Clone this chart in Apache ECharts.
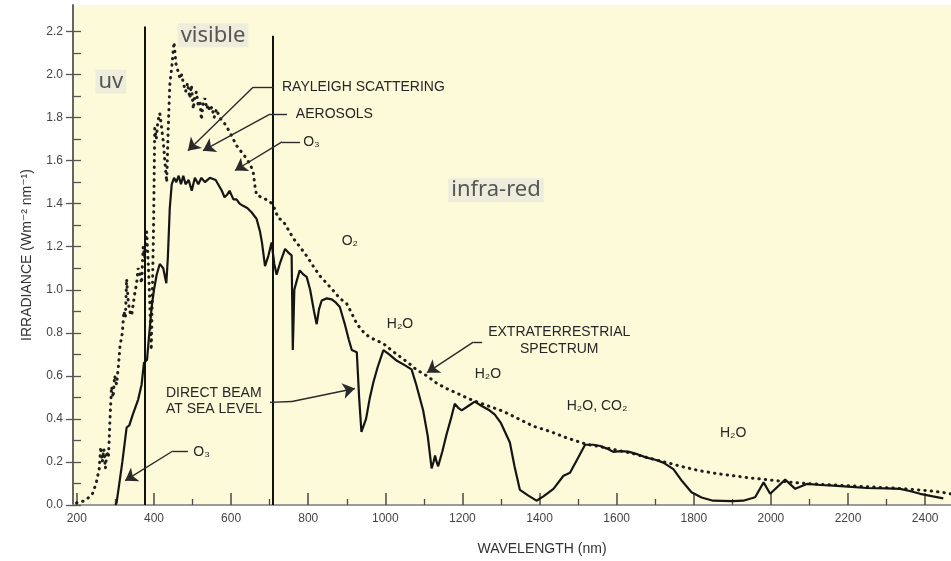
<!DOCTYPE html>
<html><head><meta charset="utf-8">
<script src="https://cdn.jsdelivr.net/npm/echarts@6/dist/echarts.min.js"></script>
<style>html,body{margin:0;padding:0;background:#fff}#c{width:951px;height:561px}</style>
</head><body><div id="c"></div>
<script>
// ---- data ----
// Direct beam at sea level (solid)
const beamWl = [300,303,318,329,336,345,359,368,374,382,388,394,400,407,415,424,432,436,441,446,452,458,464,470,476,482,490,498,506,515,523,532,545,560,576,583,589,596,606,614,622,631,642,653,666,675,680,688,697,705,712,718,728,740,750,757,760,764,770,778,788,796,805,815,822,828,835,848,861,872,882,895,905,913,926,932,938,950,960,969,980,995,1010,1030,1050,1068,1080,1098,1110,1120,1125,1129,1133,1137,1148,1159,1170,1180,1190,1198,1215,1232,1250,1270,1284,1300,1323,1335,1349,1370,1392,1410,1436,1462,1479,1500,1518,1540,1557,1575,1591,1610,1630,1655,1678,1700,1721,1747,1770,1794,1820,1850,1900,1928,1959,1981,1998,2037,2063,2093,2130,2162,2200,2248,2300,2335,2360,2387,2420,2447];
const beamIrr = [0.00,0.01,0.20,0.36,0.37,0.42,0.49,0.56,0.66,0.675,0.80,0.92,1.00,1.07,1.12,1.10,1.03,1.15,1.38,1.49,1.52,1.50,1.53,1.49,1.53,1.49,1.51,1.46,1.52,1.49,1.52,1.50,1.52,1.51,1.46,1.43,1.44,1.46,1.42,1.42,1.40,1.39,1.38,1.36,1.33,1.27,1.22,1.11,1.16,1.22,1.12,1.07,1.13,1.19,1.17,1.16,0.72,1.00,1.04,1.09,1.07,1.06,1.00,0.90,0.84,0.91,0.95,0.96,0.955,0.94,0.92,0.84,0.77,0.72,0.71,0.50,0.34,0.40,0.50,0.57,0.64,0.72,0.70,0.67,0.65,0.63,0.56,0.44,0.32,0.17,0.20,0.23,0.20,0.18,0.25,0.33,0.40,0.47,0.45,0.44,0.46,0.48,0.46,0.44,0.42,0.38,0.29,0.18,0.07,0.045,0.02,0.04,0.075,0.136,0.15,0.22,0.28,0.28,0.274,0.262,0.247,0.25,0.248,0.235,0.22,0.21,0.197,0.167,0.11,0.059,0.035,0.02,0.018,0.02,0.036,0.105,0.052,0.118,0.075,0.098,0.093,0.09,0.085,0.079,0.077,0.075,0.065,0.052,0.04,0.031];
// Extraterrestrial spectrum (dotted)
const extraWl = [199,221,240,250,258,262,266,270,274,278,282,286,290,294,298,303,308,312,318,322,326,329,333,337,342,346,350,355,359,364,368,372,376,381,385,389,393,396,399,402,406,410,415,420,424,428,433,437,441,447,452,457,463,468,472,476,482,487,493,497,502,506,510,515,519,523,527,532,537,541,545,550,556,562,570,580,588,600,614,627,640,650,657,662,666,679,690,701,712,722,735,748,761,778,796,813,830,848,865,882,900,913,926,940,952,970,995,1015,1038,1060,1081,1108,1133,1160,1185,1215,1245,1275,1306,1349,1384,1430,1470,1522,1560,1600,1640,1680,1730,1770,1816,1860,1902,1945,1989,2030,2075,2120,2162,2205,2248,2290,2335,2370,2404,2440,2467];
const extraIrr = [0.01,0.02,0.05,0.10,0.17,0.27,0.20,0.26,0.17,0.25,0.22,0.40,0.55,0.50,0.60,0.56,0.65,0.74,0.80,0.90,0.87,1.05,0.95,0.90,0.88,0.93,0.98,1.03,1.10,1.07,1.03,1.20,1.15,1.27,1.13,0.95,0.72,1.00,1.30,1.75,1.70,1.78,1.82,1.75,1.69,1.60,1.50,1.75,1.95,2.05,2.15,2.05,2.01,1.98,2.00,1.96,1.92,1.96,1.89,1.95,1.84,1.90,1.92,1.85,1.88,1.79,1.86,1.89,1.84,1.86,1.83,1.85,1.80,1.84,1.80,1.78,1.76,1.72,1.67,1.64,1.61,1.58,1.55,1.48,1.44,1.43,1.42,1.41,1.38,1.334,1.319,1.28,1.24,1.20,1.157,1.11,1.065,1.03,0.996,0.96,0.935,0.89,0.842,0.81,0.789,0.77,0.75,0.72,0.689,0.66,0.628,0.60,0.566,0.54,0.52,0.495,0.474,0.455,0.435,0.397,0.366,0.34,0.312,0.282,0.27,0.255,0.24,0.22,0.197,0.178,0.159,0.146,0.136,0.126,0.118,0.11,0.102,0.097,0.093,0.089,0.085,0.081,0.077,0.072,0.067,0.06,0.052];
// axis ticks
const xTicks = [200,400,600,800,1000,1200,1400,1600,1800,2000,2200,2400];
const xMinorTicks = [300,500,700,900,1100,1300,1500,1700,1900,2100,2300];
const yTicks = [0,0.2,0.4,0.6,0.8,1.0,1.2,1.4,1.6,1.8,2.0,2.2];
const yAllTicks = [0,0.1,0.2,0.3,0.4,0.5,0.6,0.7,0.8,0.9,1.0,1.1,1.2,1.3,1.4,1.5,1.6,1.7,1.8,1.9,2.0,2.1,2.2];
// band boundaries (uv / visible / infra-red)
const bandEdgeWl = [377, 707];
const bandEdgeTop = [2.223, 2.18];
// region labels [text, wavelength, irradiance]
const regionLabels = [['uv',288,1.967],['visible',553,2.182],['infra-red',1287,1.464]];
// annotation texts [text, wavelength, irradiance, align]
const noteTexts = [
  ['RAYLEIGH SCATTERING',732,1.941,'left'],
  ['AEROSOLS',768,1.816,'left'],
  ['O₃',787,1.687,'left'],
  ['O₂',908,1.227,'center'],
  ['H₂O',1038,0.840,'center'],
  ['EXTRATERRESTRIAL',1451,0.803,'center'],
  ['SPECTRUM',1451,0.725,'center'],
  ['H₂O',1266,0.610,'center'],
  ['H₂O, CO₂',1549,0.458,'center'],
  ['H₂O',1902,0.334,'center'],
  ['DIRECT BEAM',431,0.518,'left'],
  ['AT SEA LEVEL',431,0.447,'left'],
  ['O₃',502,0.246,'left']
];
// annotation leader lines: polyline points, arrow at last point
const noteArrows = [
  [[709,1.941],[657,1.941],[488,1.646]],
  [[745,1.816],[701,1.816],[527,1.646]],
  [[779,1.687],[732,1.687],[610,1.554]],
  [[1251,0.757],[1228,0.757],[1108,0.615]],
  [[701,0.477],[758,0.481],[921,0.541]],
  [[488,0.251],[449,0.251],[325,0.113]]
];

const xMin = 190, xMax = 2467, yMin = 0, yMax = 2.323;
const FONT = "'Liberation Sans', Arial, 'DejaVu Sans', sans-serif";

const zip = (a, b) => a.map((v, i) => [v, b[i]]);

const markData = [];
bandEdgeWl.forEach((w, i) => {
  markData.push([{coord:[w,0], symbol:'none', lineStyle:{color:'#111', width:2, type:'solid'}}, {coord:[w,bandEdgeTop[i]], symbol:'none'}]);
});
noteArrows.forEach(pts => {
  for (let i = 0; i < pts.length - 1; i++) {
    const last = i === pts.length - 2;
    markData.push([{coord:pts[i], symbol:'none', lineStyle:{color:'#2a2a2a', width:1.4, type:'solid'}},
                   {coord:pts[i+1], symbol: last ? 'arrow' : 'none', symbolSize: last ? 12 : 0}]);
  }
});

const chart = echarts.init(document.getElementById('c'));
chart.setOption({
  animation: false,
  backgroundColor: '#ffffff',
  grid: {left:73, right:0, top:5, bottom:51.5, show:true, backgroundColor:'#FDFAD9', borderWidth:0},
  xAxis: [
    {type:'value', min:xMin, max:xMax, position:'bottom',
     axisLine:{show:true, onZero:false, lineStyle:{color:'#4a4a4a', width:2}},
     axisTick:{show:true, inside:true, length:12, customValues:xTicks, lineStyle:{color:'#4a4a4a', width:1.5}},
     axisLabel:{customValues:xTicks, formatter:v => String(v), color:'#444', fontSize:12, fontFamily:FONT, margin:8},
     splitLine:{show:false},
     name:'WAVELENGTH (nm)', nameLocation:'middle', nameGap:37,
     nameTextStyle:{color:'#333', fontSize:14, fontFamily:FONT, padding:[0,0,0,60]}},
    {type:'value', min:xMin, max:xMax, position:'bottom',
     axisLine:{show:false},
     axisTick:{show:true, inside:true, length:6, customValues:xMinorTicks, lineStyle:{color:'#4a4a4a', width:1.3}},
     axisLabel:{show:false}, splitLine:{show:false}},
    {type:'value', min:xMin, max:xMax, position:'top',
     axisLine:{show:true, lineStyle:{color:'#9a9a9a', width:2}},
     axisTick:{show:false}, axisLabel:{show:false}, splitLine:{show:false}}
  ],
  yAxis: [
    {type:'value', min:yMin, max:yMax, position:'left',
     axisLine:{show:true, lineStyle:{color:'#666', width:2}},
     axisTick:{show:true, inside:true, length:8, customValues:yAllTicks, lineStyle:{color:'#555', width:1.3}},
     axisLabel:{customValues:yTicks, formatter:v => v.toFixed(1), color:'#444', fontSize:12, fontFamily:FONT, margin:10},
     splitLine:{show:false},
     name:'IRRADIANCE (Wm⁻² nm⁻¹)', nameLocation:'middle', nameRotate:90, nameGap:39,
     nameTextStyle:{color:'#333', fontSize:14, fontFamily:FONT}},
    {type:'value', min:yMin, max:yMax, position:'left',
     axisLine:{show:false},
     axisTick:{show:true, inside:false, length:7, customValues:yTicks, lineStyle:{color:'#555', width:1.3}},
     axisLabel:{show:false}, splitLine:{show:false}}
  ],
  series: [
    {name:'Extraterrestrial spectrum', type:'line', data:zip(extraWl, extraIrr), showSymbol:false, smooth:false,
     lineStyle:{color:'#1e1e1e', width:3, type:[0.4,6], cap:'round'}, z:3},
    {name:'Direct beam at sea level', type:'line', data:zip(beamWl, beamIrr), showSymbol:false, smooth:false,
     lineStyle:{color:'#151515', width:2.2}, z:4,
     markLine:{silent:true, animation:false, label:{show:false}, emphasis:{disabled:true}, lineStyle:{type:'solid'}, data:markData}}
  ]
});

const px = (w, v) => chart.convertToPixel({xAxisIndex:0, yAxisIndex:0}, [w, v]);
const graphics = [];
regionLabels.forEach(([t, w, v]) => {
  const p = px(w, v);
  graphics.push({type:'text', x:p[0], y:p[1], z:10, style:{text:t, fill:'#555', font:"22px 'Noto Sans', 'Open Sans', sans-serif",
    align:'center', verticalAlign:'middle', backgroundColor:'#EEEDDC', padding:[1,3,1,3]}});
});
noteTexts.forEach(([t, w, v, a]) => {
  const p = px(w, v);
  graphics.push({type:'text', x:p[0], y:p[1], z:10, style:{text:t, fill:'#262626', font:"14px " + FONT,
    align:a, verticalAlign:'middle'}});
});
chart.setOption({graphic: graphics});
</script></body></html>
